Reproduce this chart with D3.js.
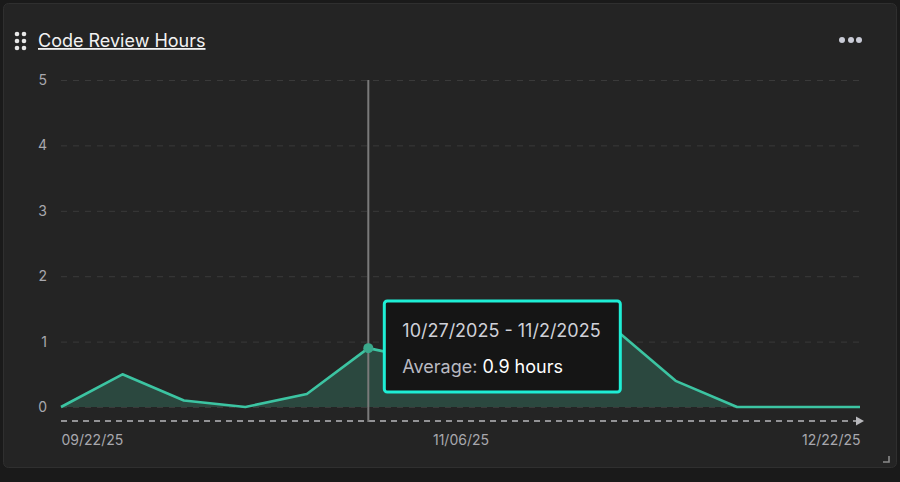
<!DOCTYPE html>
<html><head><meta charset="utf-8">
<script src="https://cdn.jsdelivr.net/npm/d3@7"></script>
<style>
html,body{margin:0;padding:0;background:#1a1a1a;}
svg{display:block;font-family:Inter,"Noto Sans",sans-serif;}
</style></head>
<body>
<svg id="c" width="900" height="482"></svg>
<script>
const weeks = ["2025-09-22","2025-09-29","2025-10-06","2025-10-13","2025-10-20","2025-10-27","2025-11-03","2025-11-10","2025-11-17","2025-11-24","2025-12-01","2025-12-08","2025-12-15","2025-12-22"];
const hours = [0, 0.5, 0.1, 0, 0.2, 0.9, 0.7, 1.1, 1.4, 1.2, 0.4, 0, 0, 0];
const yTicks = [0,1,2,3,4,5];
const xTickLabels = ["09/22/25","11/06/25","12/22/25"];
const title = "Code Review Hours";
const tipIndex = 5;
const tipRange = "10/27/2025 - 11/2/2025";
const tipLabel = "Average: ";
const tipValue = "0.9 hours";

const parse = d3.timeParse("%Y-%m-%d");
const data = weeks.map((w,i)=>({d:parse(w), v:hours[i]}));

const svg = d3.select("#c");
// card
svg.append("rect").attr("x",3.5).attr("y",3.5).attr("width",893).attr("height",464).attr("rx",5)
  .attr("fill","#242424").attr("stroke","#2f2f2f");

// drag handle
const dots = [];
for (let r=0;r<3;r++) for (let c=0;c<2;c++) dots.push([17+c*7, 34+r*7]);
svg.selectAll(".hd").data(dots).join("circle").attr("cx",d=>d[0]).attr("cy",d=>d[1]).attr("r",2.3).attr("fill","#e8e8e8");
// title
svg.append("text").attr("x",38).attr("y",47).attr("fill","#f2f2f2").attr("font-size",18)
  .attr("text-decoration","underline").text(title);
// more dots
svg.selectAll(".md").data([842,851,859]).join("circle").attr("cx",d=>d).attr("cy",40).attr("r",3).attr("fill","#c9cbd6");
// resize corner
svg.append("path").attr("d","M883,462 H889 V456").attr("fill","none").attr("stroke","#8a8a8a").attr("stroke-width",1.6);

const x = d3.scaleTime().domain(d3.extent(data,d=>d.d)).range([61,860]);
const y = d3.scaleLinear().domain([0,5]).range([407,80]);

// gridlines
const grid = svg.append("g").attr("transform","translate(61,0)")
  .call(d3.axisLeft(y).tickValues(yTicks).tickSize(-799).tickFormat(""));
grid.select(".domain").remove();
grid.selectAll("line").attr("stroke","#3a3a3a").attr("stroke-dasharray","6,6");

// y labels
const ya = svg.append("g").attr("transform","translate(47,0)")
  .call(d3.axisLeft(y).tickValues(yTicks).tickSize(0).tickFormat(d3.format("d")));
ya.select(".domain").remove();
ya.selectAll("text").attr("fill","#a8a8ae").attr("font-size",14).attr("font-family","Inter,sans-serif").attr("x",0);

// area & line
const area = d3.area().x(d=>x(d.d)).y0(y(0)).y1(d=>y(d.v));
const line = d3.line().x(d=>x(d.d)).y(d=>y(d.v));
svg.append("path").datum(data).attr("d",area).attr("fill","#2c4b41").attr("fill-opacity",0.95);
svg.append("path").datum(data).attr("d",line).attr("fill","none").attr("stroke","#3cc4a2").attr("stroke-width",2.6).attr("stroke-linejoin","round");

// x axis baseline with arrow
svg.append("line").attr("x1",61).attr("x2",856).attr("y1",421).attr("y2",421)
  .attr("stroke","#b8b8bc").attr("stroke-width",1.5).attr("stroke-dasharray","6,5");
svg.append("path").attr("d","M856,416.5 L864,421 L856,425.5 Z").attr("fill","#b8b8bc");

const [d0,d1] = x.domain();
const mid = new Date((+d0 + +d1)/2);
const xa = svg.append("g").attr("transform","translate(0,430)")
  .call(d3.axisBottom(x).tickValues([d0,mid,d1]).tickSize(0).tickFormat((d,i)=>xTickLabels[i]));
xa.select(".domain").remove();
xa.selectAll("text").attr("fill","#a8a8ae").attr("font-size",14).attr("font-family","Inter,sans-serif")
  .attr("text-anchor",(d,i)=>i===0?"start":i===2?"end":"middle").attr("dy","0.85em");

// crosshair
const tp = data[tipIndex];
svg.append("line").attr("x1",x(tp.d)).attr("x2",x(tp.d)).attr("y1",80).attr("y2",422)
  .attr("stroke","#7a7a7a").attr("stroke-width",2);
svg.append("circle").attr("cx",x(tp.d)).attr("cy",y(tp.v)).attr("r",5).attr("fill","#3aa88b");

// tooltip
const tg = svg.append("g").attr("transform",`translate(${x(tp.d)+16},301)`);
tg.append("rect").attr("x",0).attr("y",0).attr("width",236).attr("height",91).attr("rx",3)
  .attr("fill","#151515").attr("stroke","#1eeed5").attr("stroke-width",3);
tg.append("text").attr("x",18).attr("y",36).attr("fill","#cfd0d8").attr("font-size",18).text(tipRange);
const t2 = tg.append("text").attr("x",18).attr("y",72).attr("font-size",18);
t2.append("tspan").attr("fill","#b9bac2").text(tipLabel);
t2.append("tspan").attr("fill","#ffffff").text(tipValue);
</script>
</body></html>
